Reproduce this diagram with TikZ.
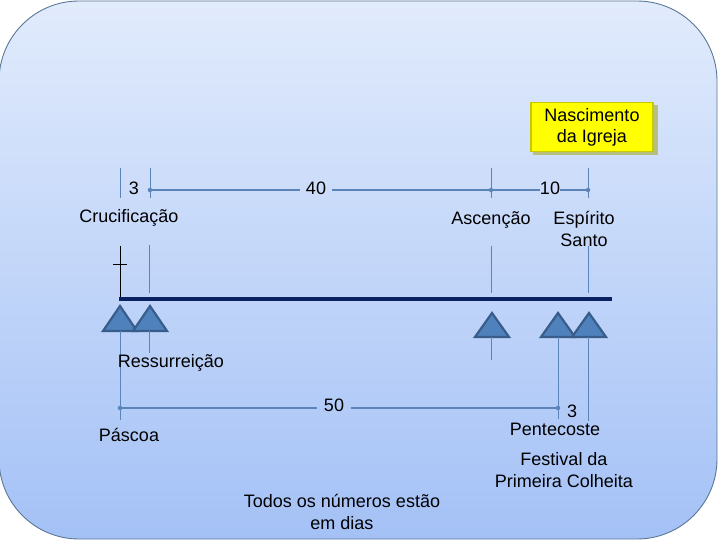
\documentclass[tikz,border=0pt]{standalone}
\usepackage{fontspec}
\setmainfont{Liberation Sans}
\usetikzlibrary{shadings}
\definecolor{bgtop}{HTML}{E1EBFC}
\definecolor{bgbot}{HTML}{A4C1F6}
\definecolor{bgedge}{HTML}{5A7896}
\definecolor{navy}{HTML}{0A2260}
\definecolor{tri}{HTML}{4F81BD}
\definecolor{triedge}{HTML}{385D8A}
\definecolor{dim}{HTML}{5B84B8}
\definecolor{ybox}{HTML}{FFFF00}
\definecolor{yedge}{HTML}{C8C800}
\tikzset{
  lbl/.style={font=\fontsize{18}{22}\selectfont, text=black, inner sep=1pt, align=center},
  tick/.style={draw=dim, line width=0.9pt},
  dimline/.style={draw=dim, line width=1.6pt},
  dot/.style={circle, fill=dim, inner sep=0pt, minimum size=4.5pt},
  trinode/.style={fill=tri, draw=triedge, line width=2.2pt, line join=miter}
}
\begin{document}
\begin{tikzpicture}[x=1pt,y=-1pt]
\useasboundingbox (0,0) rectangle (720,540);
% background
\shade[top color=bgtop, bottom color=bgbot, draw=bgedge, line width=0.9pt, rounded corners=80pt]
  (-1,1) rectangle (717,539);
% yellow box
\fill[yedge!80!black, opacity=0.5] (533,105) rectangle (658,155);
\node[lbl, fill=ybox, draw=yedge, line width=1.5pt, minimum width=122pt, minimum height=49pt, inner sep=0pt] (nasc) at (592,127) {Nascimento\\[-1pt]da Igreja};
% coordinates for ticks
\coordinate (a1) at (120,168); \coordinate (a2) at (120,198);
\coordinate (b1) at (150,168); \coordinate (b2) at (150,198);
\coordinate (c1) at (491,168); \coordinate (c2) at (491,198);
\coordinate (d1) at (588,168); \coordinate (d2) at (588,198);
\draw[tick] (a1) -- (a2);
\draw[tick] (b1) -- (b2);
\draw[tick] (c1) -- (c2);
\draw[tick] (d1) -- (d2);
% top dimension line
\node[lbl] (n3a) at (134,188) {3};
\node[lbl, inner xsep=6pt] (n40) at (316,188) {40};
\node[lbl, inner xsep=0pt] (n10) at (550,188) {10};
\coordinate (p150) at (150,190); \coordinate (p491) at (491,190); \coordinate (p588) at (588,190);
\draw[dimline] (p150) -- (n40.west |- p150);
\draw[dimline] (n40.east |- p150) -- (p491);
\draw[dimline] (p491) -- (n10.west |- p491);
\draw[dimline] (n10.east |- p491) -- (p588);
\node[dot] at (p150) {};
\node[dot] at (p491) {};
\node[dot] at (p588) {};
% labels
\node[lbl] (cruc) at (129,218) {Crucificação};
\node[lbl] (asc) at (491,220) {Ascenção};
\node[lbl] (esp) at (584,229) {Espírito\\Santo};
% middle ticks
\coordinate (m2a) at (149,245); \coordinate (m2b) at (149,293);
\coordinate (m3a) at (491,246); \coordinate (m3b) at (491,293);
\coordinate (m4a) at (588,246); \coordinate (m4b) at (588,293);
\draw[tick] (m2a) -- (m2b);
\draw[tick] (m3a) -- (m3b);
\draw[tick] (m4a) -- (m4b);
% cross
\coordinate (x1) at (120,246); \coordinate (x2) at (120,299);
\coordinate (h1) at (113,264); \coordinate (h2) at (127,264);
\draw[black, line width=0.9pt] (x1) -- (x2);
\draw[black, line width=0.8pt] (h1) -- (h2);
% main bar
\coordinate (L) at (119,299); \coordinate (R) at (612,299);
\draw[navy, line width=3.5pt] (L) -- (R);
% triangles
\foreach \n/\x/\yt/\yb in {t1/120/306/331, t2/150/306/331, t3/492/313/337, t4/558/313/337, t5/589/313/337}{
  \filldraw[trinode] (\x-17,\yb) -- (\x,\yt) -- (\x+17,\yb) -- cycle;
}
% lower ticks
\draw[tick] (120,331) -- (120,420);
\draw[tick] (149,331) -- (149,353);
\draw[tick] (491,337) -- (491,360);
\draw[tick] (558,337) -- (558,419);
\draw[tick] (588,337) -- (588,421);
% lower dimension line
\node[lbl, inner xsep=7pt] (n50) at (334,405) {50};
\coordinate (q120) at (120,408); \coordinate (q558) at (558,408);
\draw[dimline] (q120) -- (n50.west |- q120);
\draw[dimline] (n50.east |- q120) -- (q558);
\node[dot] at (q120) {};
\node[dot] at (q558) {};
\node[lbl] (n3b) at (572,411) {3};
% labels lower
\node[lbl] (res) at (171,363) {Ressurreição};
\node[lbl] (pas) at (129,435) {Páscoa};
\node[lbl] (pen) at (555,429) {Pentecoste};
\node[lbl] (fest) at (564,470) {Festival da\\Primeira Colheita};
\node[lbl] (todos) at (342,512) {Todos os números estão\\em dias};
\end{tikzpicture}
\end{document}
